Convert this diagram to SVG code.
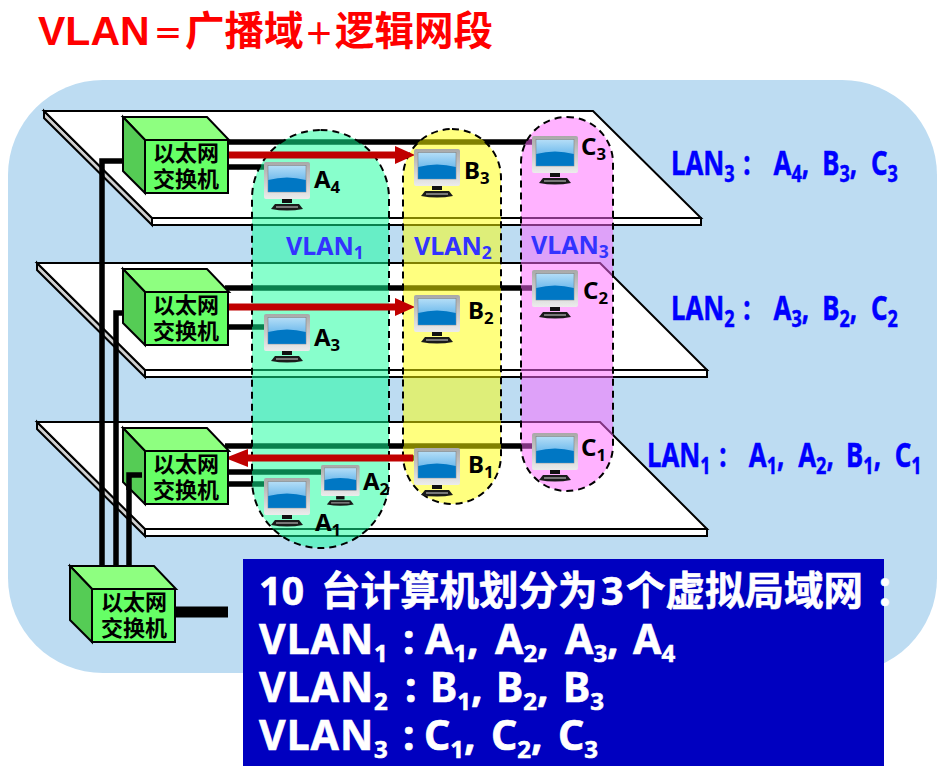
<svg xmlns="http://www.w3.org/2000/svg" width="942" height="766" viewBox="0 0 942 766">
<style>
text{font-family:"Noto Sans","Noto Sans CJK SC",sans-serif;font-weight:700}
.plat{fill:#fff;stroke:#000;stroke-width:2}
.side{fill:#d0d0d0;stroke:#000;stroke-width:2}
.wire{stroke:#000;stroke-width:5.500;fill:none}
.red{stroke:#c00000;stroke-width:7;fill:none}
.head{fill:#c00000}
.f{fill:#66ff66;stroke:#000;stroke-width:2}
.t{fill:#8eff80;stroke:#000;stroke-width:2}
.l{fill:#55cc55;stroke:#000;stroke-width:2}
.sw{font-size:22px;fill:#000;font-family:"Noto Sans CJK SC",sans-serif;text-anchor:middle}
.pc{font-size:24px;fill:#000}
.vl{font-size:25px;fill:#3333ff}
.lan{font-size:34px;fill:#0000ff;stroke:#0000ff;stroke-width:.5}
.box{font-size:41px;fill:#fff;stroke:#fff;stroke-width:.6}
.s{font-size:.7em}
.b{font-size:24px}
.w{letter-spacing:1px}
</style>
<defs>
<linearGradient id="scr" x1="0" y1="0" x2="0" y2="1"><stop offset="0" stop-color="#b5def7"/><stop offset="1" stop-color="#3a9fe4"/></linearGradient>
<linearGradient id="fr" x1="0" y1="0" x2="0" y2="1"><stop offset="0" stop-color="#a8a8a8"/><stop offset="1" stop-color="#ececec"/></linearGradient>
<g id="pc">
<rect x="0" y="0" width="46" height="37" rx="2" fill="url(#fr)"/>
<rect x="4" y="3.500" width="38" height="26.500" fill="url(#scr)" stroke="#777" stroke-width=".5"/>
<path d="M4.200 18Q23 13 41.800 18V29.800H4.200Z" fill="#0077c4"/>
<path d="M18 37H28V41H18Z" fill="#111"/>
<path d="M11 42H35L39 47Q23 50 7 47Z" fill="#1a1a1a"/>
<rect x="12" y="44" width="22" height="2" fill="#777"/>
</g>
<g id="sw">
<path class="t" d="M0 0H84L106 23H22Z"/>
<path class="l" d="M0 0L22 23V76L0 54Z"/>
<rect class="f" x="22" y="23" width="83" height="53"/>
</g>
</defs>
<rect width="942" height="766" fill="#fff"/>
<rect x="8" y="80" width="929" height="593" rx="95" fill="#bddcf2"/>
<text y="45" font-size="39.500" fill="#ff0000"><tspan x="38" font-size="41" style="font-family:'Liberation Sans',sans-serif">VLAN</tspan><tspan x="153" y="44" font-size="30">＝</tspan><tspan x="185" y="45">广播域</tspan><tspan x="304" y="44" font-size="30">＋</tspan><tspan x="335" y="45">逻辑网段</tspan></text>

<g id="platforms">
<path class="side" d="M44 111V118L152 225V218Z"/><rect class="plat" x="152" y="218" width="549" height="7"/><path class="plat" d="M44 111H593L701 218H152Z"/>
<path class="side" d="M37 263V270L145 377V370Z"/><rect class="plat" x="145" y="370" width="562" height="7"/><path class="plat" d="M37 263H600L707 370H145Z"/>
<path class="side" d="M37 422V429L145 536V529Z"/><rect class="plat" x="145" y="529" width="562" height="7"/><path class="plat" d="M37 422H600L707 529H145Z"/>
</g>

<g id="connectors">
<path class="wire" d="M225 142H535M225 167H270M225 288H535M225 327H270M225 446H535M225 472H325M225 484H270M405 458H420"/>
<path class="wire" d="M143 161H102V570M140 313H116V570M142 475H129V570"/>
<path d="M176 612H228" stroke="#000" stroke-width="11" fill="none"/>
</g>

<g id="vlan-zones" stroke="#000" stroke-width="2" stroke-dasharray="7 5">
<rect id="vlan1" x="252" y="130" width="137" height="418" rx="68.500" fill="#11ff99" fill-opacity=".5"/>
<rect id="vlan2" x="403" y="129" width="98" height="375" rx="49" fill="#ffff00" fill-opacity=".5"/>
<rect id="vlan3" x="521" y="117" width="92" height="374" rx="46" fill="#ff66ff" fill-opacity=".5"/>
</g>

<g id="arrows">
<path class="red" d="M228 155H397"/><path class="head" d="M395 146L415 155L395 164Z"/>
<path class="red" d="M228 307H397"/><path class="head" d="M395 298L415 307L395 316Z"/>
<path class="red" d="M413 458H245"/><path class="head" d="M248 449L225 458L248 467Z"/>
</g>

<g id="switch3"><use href="#sw" x="123" y="117"/><text class="sw" x="186" y="161">以太网</text><text class="sw" x="186" y="187">交换机</text></g>
<g id="switch2"><use href="#sw" x="123" y="269"/><text class="sw" x="186" y="313">以太网</text><text class="sw" x="186" y="339">交换机</text></g>
<g id="switch1"><use href="#sw" x="123" y="428"/><text class="sw" x="186" y="472">以太网</text><text class="sw" x="186" y="498">交换机</text></g>
<g id="switch0"><use href="#sw" x="70" y="566"/><text class="sw" x="134" y="610">以太网</text><text class="sw" x="134" y="636">交换机</text></g>
<path class="wire" d="M142 475H129V490"/>

<g id="A4"><use href="#pc" x="264" y="162"/><text class="pc" x="314" y="188">A<tspan class="s" dy="5">4</tspan></text></g>
<g id="A3"><use href="#pc" x="264" y="314"/><text class="pc" x="314" y="346">A<tspan class="s" dy="5">3</tspan></text></g>
<g id="A2"><use href="#pc" transform="translate(321 465) scale(.84)"/><text class="pc" x="363" y="490">A<tspan class="s" dy="5">2</tspan></text></g>
<g id="A1"><use href="#pc" x="264" y="478"/><text class="pc" x="315" y="531">A<tspan class="s" dy="5">1</tspan></text></g>
<g id="B3"><use href="#pc" x="414" y="149"/><text class="pc" x="464" y="179">B<tspan class="s" dy="5">3</tspan></text></g>
<g id="B2"><use href="#pc" x="414" y="295"/><text class="pc" x="468" y="319">B<tspan class="s" dy="5">2</tspan></text></g>
<g id="B1"><use href="#pc" x="414" y="448"/><text class="pc" x="468" y="473">B<tspan class="s" dy="5">1</tspan></text></g>
<g id="C3"><use href="#pc" x="532" y="136"/><text class="pc" x="581" y="155">C<tspan class="s" dy="5">3</tspan></text></g>
<g id="C2"><use href="#pc" x="532" y="270"/><text class="pc" x="583" y="299">C<tspan class="s" dy="5">2</tspan></text></g>
<g id="C1"><use href="#pc" x="532" y="433"/><text class="pc" x="581" y="456">C<tspan class="s" dy="5">1</tspan></text></g>

<g id="vlan-labels">
<text class="vl" x="286" y="255">VLAN<tspan class="s" dy="4">1</tspan></text>
<text class="vl" x="414" y="255">VLAN<tspan class="s" dy="4">2</tspan></text>
<text class="vl" x="531" y="254">VLAN<tspan class="s" dy="4">3</tspan></text>
</g>
<g id="lan-labels">
<text class="lan" transform="translate(671 175) scale(.76 1)">LAN<tspan class="s" dy="7">3</tspan><tspan x="95" y="0">:</tspan><tspan x="135" y="0">A</tspan><tspan class="s" dy="7">4</tspan><tspan dy="-7">,</tspan><tspan x="199" y="0">B</tspan><tspan class="s" dy="7">3</tspan><tspan dy="-7">,</tspan><tspan x="263" y="0">C</tspan><tspan class="s" dy="7">3</tspan></text>
<text class="lan" transform="translate(671 320) scale(.76 1)">LAN<tspan class="s" dy="7">2</tspan><tspan x="95" y="0">:</tspan><tspan x="135" y="0">A</tspan><tspan class="s" dy="7">3</tspan><tspan dy="-7">,</tspan><tspan x="199" y="0">B</tspan><tspan class="s" dy="7">2</tspan><tspan dy="-7">,</tspan><tspan x="263" y="0">C</tspan><tspan class="s" dy="7">2</tspan></text>
<text class="lan" transform="translate(647 467) scale(.76 1)">LAN<tspan class="s" dy="7">1</tspan><tspan x="95" y="0">:</tspan><tspan x="134" y="0">A</tspan><tspan class="s" dy="7">1</tspan><tspan dy="-7">,</tspan><tspan x="199" y="0">A</tspan><tspan class="s" dy="7">2</tspan><tspan dy="-7">,</tspan><tspan x="262" y="0">B</tspan><tspan class="s" dy="7">1</tspan><tspan dy="-7">,</tspan><tspan x="326" y="0">C</tspan><tspan class="s" dy="7">1</tspan></text>
</g>

<g id="info">
<rect x="243" y="559" width="641" height="207" fill="#0000c0"/>
<text class="box" y="605" style="font-size:39.500px"><tspan x="259">10</tspan><tspan x="321">台计算机划分为</tspan><tspan x="601">3</tspan><tspan x="626">个虚拟局域网</tspan><tspan x="875">：</tspan></text>
<text class="box" y="654"><tspan class="w" x="259">VLAN</tspan><tspan class="b" x="374" dy="8">1</tspan><tspan x="403" dy="-8">:</tspan><tspan x="425">A</tspan><tspan class="b" dy="8">1</tspan><tspan dy="-8">,</tspan><tspan x="495">A</tspan><tspan class="b" dy="8">2</tspan><tspan dy="-8">,</tspan><tspan x="565">A</tspan><tspan class="b" dy="8">3</tspan><tspan dy="-8">,</tspan><tspan x="633">A</tspan><tspan class="b" dy="8">4</tspan></text>
<text class="box" y="702"><tspan class="w" x="259">VLAN</tspan><tspan class="b" x="374" dy="8">2</tspan><tspan x="405" dy="-8">:</tspan><tspan x="430">B</tspan><tspan class="b" dy="8">1</tspan><tspan dy="-8">,</tspan><tspan x="496">B</tspan><tspan class="b" dy="8">2</tspan><tspan dy="-8">,</tspan><tspan x="563">B</tspan><tspan class="b" dy="8">3</tspan></text>
<text class="box" y="750"><tspan class="w" x="259">VLAN</tspan><tspan class="b" x="374" dy="8">3</tspan><tspan x="403" dy="-8">:</tspan><tspan x="424">C</tspan><tspan class="b" dy="8">1</tspan><tspan dy="-8">,</tspan><tspan x="491">C</tspan><tspan class="b" dy="8">2</tspan><tspan dy="-8">,</tspan><tspan x="558">C</tspan><tspan class="b" dy="8">3</tspan></text>
</g>
</svg>
